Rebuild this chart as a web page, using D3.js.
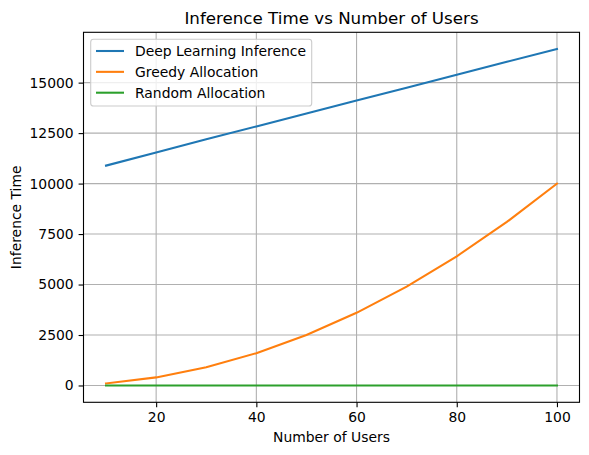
<!DOCTYPE html>
<html><head><meta charset="utf-8">
<script src="https://cdn.jsdelivr.net/npm/d3@7/dist/d3.min.js"></script>
<style>
body{margin:0;background:#fff;}
svg text{font-family:"DejaVu Sans",sans-serif;fill:#000;}
</style></head>
<body><svg id="c" width="589" height="455"></svg>
<script>
const users = [10,20,30,40,50,60,70,80,90,100];
const deepLearning = [10890,11540,12190,12830,13470,14110,14750,15390,16030,16660];
const greedy = [100,400,900,1600,2500,3600,4900,6400,8100,10000];
const random = [0,0,0,0,0,0,0,0,0,0];
const seriesNames = ["Deep Learning Inference","Greedy Allocation","Random Allocation"];
const xTicks = [20,40,60,80,100];
const yTicks = [0,2500,5000,7500,10000,12500,15000];

const colors = ["#1f77b4","#ff7f0e","#2ca02c"];
const series = [deepLearning, greedy, random];

const L=83.5, R=579.5, T=32.3, B=402.3;
const svg = d3.select("#c");
const allY = series.flat();
const yMin = d3.min(allY), yMax = d3.max(allY);
const ym = (yMax-yMin)*0.05, xm=(100-10)*0.05;
const x = d3.scaleLinear().domain([10-xm,100+xm]).range([L,R]);
const y = d3.scaleLinear().domain([yMin-ym,yMax+ym]).range([B,T]);

// grid
const g = svg.append("g");
g.selectAll("line.gx").data(xTicks).enter().append("line")
  .attr("x1",d=>x(d)).attr("x2",d=>x(d)).attr("y1",T).attr("y2",B)
  .attr("stroke","#b0b0b0").attr("stroke-width",1.1);
g.selectAll("line.gy").data(yTicks).enter().append("line")
  .attr("y1",d=>y(d)).attr("y2",d=>y(d)).attr("x1",L).attr("x2",R)
  .attr("stroke","#b0b0b0").attr("stroke-width",1.1);

// lines
const line = d3.line().x((d,i)=>x(users[i])).y(d=>y(d));
series.forEach((s,k)=>{
  svg.append("path").datum(s).attr("d",line).attr("fill","none")
    .attr("stroke",colors[k]).attr("stroke-width",2.08).attr("stroke-linecap","square");
});

// axes
const xAxis = d3.axisBottom(x).tickValues(xTicks).tickSize(4.9).tickPadding(4.9).tickFormat(d3.format("d"));
const yAxis = d3.axisLeft(y).tickValues(yTicks).tickSize(4.9).tickPadding(4.9).tickFormat(d3.format("d"));
const gx = svg.append("g").attr("transform",`translate(0,${B})`).call(xAxis);
const gy = svg.append("g").attr("transform",`translate(${L},0)`).call(yAxis);
[gx,gy].forEach(a=>{
  a.select(".domain").remove();
  a.selectAll("line").attr("stroke","#000").attr("stroke-width",1.1);
  a.selectAll("text").attr("font-size","13.9px").attr("font-family","DejaVu Sans").attr("fill","#000");
});
svg.append("rect").attr("x",L).attr("y",T).attr("width",R-L).attr("height",B-T)
  .attr("fill","none").attr("stroke","#000").attr("stroke-width",1.1);

// titles
svg.append("text").attr("x",(L+R)/2).attr("y",T-8.3).attr("text-anchor","middle")
  .attr("font-size","16.7px").text("Inference Time vs Number of Users");
svg.append("text").attr("x",(L+R)/2).attr("y",442).attr("text-anchor","middle")
  .attr("font-size","13.9px").text("Number of Users");
svg.append("text").attr("transform",`translate(21,${(T+B)/2}) rotate(-90)`).attr("text-anchor","middle")
  .attr("font-size","13.9px").text("Inference Time");

// legend
const lg = svg.append("g");
lg.append("rect").attr("x",90.7).attr("y",39.3).attr("width",221).attr("height",66.7)
  .attr("rx",2.8).attr("fill","#fff").attr("fill-opacity",0.8)
  .attr("stroke","#cccccc").attr("stroke-width",1.1);
seriesNames.forEach((n,i)=>{
  const yy = 51 + i*20.85;
  lg.append("line").attr("x1",96).attr("x2",124).attr("y1",yy).attr("y2",yy)
    .attr("stroke",colors[i]).attr("stroke-width",2.08);
  lg.append("text").attr("x",135).attr("y",yy+5).attr("font-size","13.9px").text(n);
});
</script></body></html>
